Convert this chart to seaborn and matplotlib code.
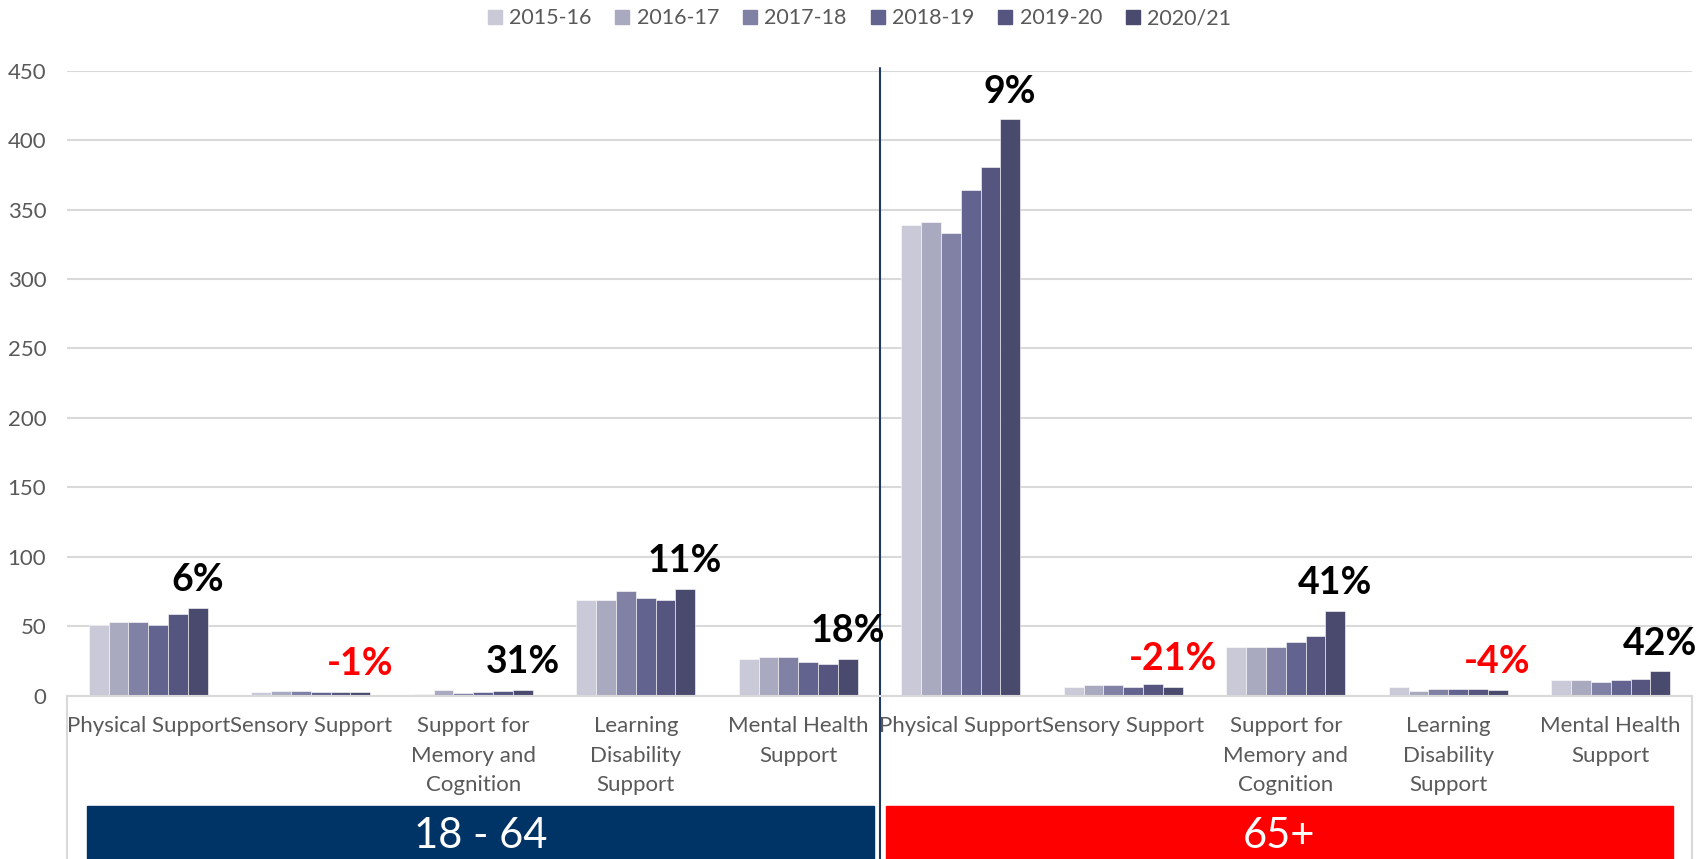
import matplotlib
matplotlib.use("Agg")
import matplotlib.pyplot as plt
import matplotlib.transforms as mtransforms
from matplotlib.patches import Rectangle, Patch
import pandas as pd
import seaborn as sns

years = ["2015-16", "2016-17", "2017-18", "2018-19", "2019-20", "2020/21"]
age_groups = ["18 - 64", "65+"]
categories = ["Physical Support", "Sensory Support", "Support for Memory and Cognition",
              "Learning Disability Support", "Mental Health Support"]
cat_labels = ["Physical Support", "Sensory Support", "Support for\nMemory and\nCognition",
              "Learning\nDisability\nSupport", "Mental Health\nSupport"]

# 18 - 64, one value per year
phys_1864 = [51, 53, 53, 51, 59, 63]
sens_1864 = [2.5, 3.2, 3.0, 2.5, 2.5, 2.5]
mem_1864 = [1.3, 4.1, 1.8, 2.7, 2.9, 4.1]
ld_1864 = [69, 69, 75, 70, 69, 77]
mh_1864 = [26.5, 27.5, 28, 24, 22.5, 26.5]
change_1864 = ["6%", "-1%", "31%", "11%", "18%"]

# 65+
phys_65 = [339, 341, 333, 364, 381, 415]
sens_65 = [6.3, 7.5, 7.5, 6.3, 8.0, 6.3]
mem_65 = [34.6, 34.6, 34.6, 38.5, 42.6, 61]
ld_65 = [6.3, 2.9, 4.8, 4.8, 4.4, 3.9]
mh_65 = [11.1, 11.1, 9.4, 11.4, 12.1, 17.4]
change_65 = ["9%", "-21%", "41%", "-4%", "42%"]

year_colors = ["#C9C9D8", "#A9A9BF", "#8181A5", "#63638F", "#55557F", "#4A4A6E"]

rows = []
for grp, series in [("18 - 64", [phys_1864, sens_1864, mem_1864, ld_1864, mh_1864]),
                    ("65+", [phys_65, sens_65, mem_65, ld_65, mh_65])]:
    for cat, vals in zip(categories, series):
        for yr, v in zip(years, vals):
            rows.append({"slot": grp + "|" + cat, "year": yr, "value": v})
df = pd.DataFrame(rows)
slots = [g + "|" + c for g in age_groups for c in categories]

sns.set_style("white")
plt.rcParams["font.family"] = ["Lato", "DejaVu Sans"]

W, H = 1702, 859
fig = plt.figure(figsize=(W / 100, H / 100), dpi=100)
ax = fig.add_axes([67 / W, 1 - 695.5 / H, (1692 - 67) / W, (695.5 - 70.7) / H])

sns.barplot(data=df, x="slot", y="value", hue="year", order=slots, hue_order=years,
            palette=year_colors, width=0.73, saturation=1, errorbar=None,
            edgecolor="white", linewidth=0.4, legend=False, ax=ax)

ax.set_xlim(-0.5, 9.5)
ax.set_ylim(0, 450)
ax.set_yticks(range(0, 451, 50))
ax.yaxis.grid(True, color="#D9D9D9", linewidth=1.5)
ax.set_axisbelow(True)
ax.set_xlabel("")
ax.set_ylabel("")
for s in ["top", "right", "left"]:
    ax.spines[s].set_visible(False)
ax.spines["bottom"].set_color("#D9D9D9")
ax.spines["bottom"].set_linewidth(1.5)

ax.set_xticks(range(10))
ax.set_xticklabels(cat_labels * 2, fontsize=16, color="#595959", linespacing=1.58)
ax.tick_params(axis="x", length=0, pad=15)
ax.tick_params(axis="y", length=0, pad=15, labelsize=16, labelcolor="#595959")

# change labels above the last year's bar
changes = change_1864 + change_65
for bar, txt in zip(ax.containers[-1], changes):
    x = bar.get_x() + bar.get_width() / 2
    ax.annotate(txt, (x, bar.get_height()), xytext=(0, 20), textcoords="offset points",
                ha="center", va="center", fontsize=27, fontweight="bold",
                color="#FF0000" if txt.startswith("-") else "black")

# frame lines of the category axis
bt = mtransforms.blended_transform_factory(ax.transData, fig.transFigure)
y0 = 1 - 695.5 / H
for xe in [-0.5, 9.5]:
    ax.plot([xe, xe], [0, y0], transform=bt, color="#D9D9D9", lw=1.5, clip_on=False)
ax.plot([4.5, 4.5], [0, y0 + (695.5 - 68) / H], transform=bt, color="#1F3864",
        lw=1.5, clip_on=False)

# age group banners
for (x0, x1), grp, col in zip([(-0.377, 4.466), (4.54, 9.38)], age_groups, ["#003366", "#FF0000"]):
    ax.add_patch(Rectangle((x0, 0), x1 - x0, 1 - 806 / H, transform=bt, color=col,
                           clip_on=False, zorder=3))
    ax.text((x0 + x1) / 2, (1 - 806 / H) / 2 - 0.004, grp, transform=bt, ha="center",
            va="center", color="white", fontsize=30, zorder=4)

handles = [Patch(color=c) for c in year_colors]
fig.legend(handles, years, loc="center", bbox_to_anchor=(0.505, 1 - 18.5 / H), ncol=6,
           frameon=False, fontsize=15.5, handlelength=0.65, handleheight=0.65,
           handletextpad=0.35, columnspacing=1.1, labelcolor="#595959")

fig.savefig("out.png", dpi=100)
